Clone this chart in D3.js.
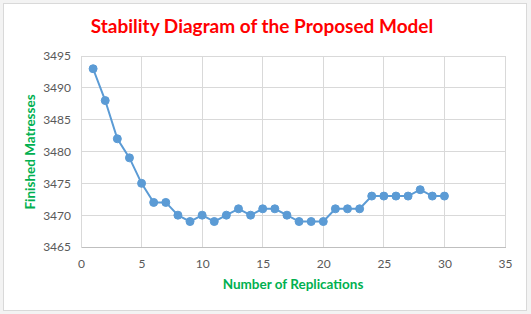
<!DOCTYPE html>
<html><head><meta charset="utf-8">
<script src="https://cdn.jsdelivr.net/npm/d3@7"></script>
<style>body{margin:0;background:#fff;}svg{display:block;}</style>
</head><body>
<svg id="c" width="531" height="314"></svg>
<script>
const replications = [1,2,3,4,5,6,7,8,9,10,11,12,13,14,15,16,17,18,19,20,21,22,23,24,25,26,27,28,29,30];
const finished = [3493,3488,3482,3479,3475,3472,3472,3470,3469,3470,3469,3470,3471,3470,3471,3471,3470,3469,3469,3469,3471,3471,3471,3473,3473,3473,3473,3474,3473,3473];
const xTicks = [0,5,10,15,20,25,30,35];
const yTicks = [3465,3470,3475,3480,3485,3490,3495];
const title = "Stability Diagram of the Proposed Model";
const xTitle = "Number of Replications";
const yTitle = "Finished Matresses";

const svg = d3.select("#c");
const font = "Lato, 'Open Sans', sans-serif";
svg.append("rect").attr("x",0).attr("y",0).attr("width",531).attr("height",314).attr("fill","#f3f3f3");
svg.append("rect").attr("x",3.5).attr("y",3.5).attr("width",523).attr("height",307).attr("fill","#fff").attr("stroke","#d9d9d9");

const m = {l:81, r:505, t:56, b:247};
const x = d3.scaleLinear().domain([0,35]).range([m.l,m.r]);
const y = d3.scaleLinear().domain([3465,3495]).range([m.b,m.t]);

const g = svg.append("g");
g.selectAll(".vg").data(xTicks).join("line")
  .attr("x1",d=>x(d)).attr("x2",d=>x(d)).attr("y1",m.t).attr("y2",m.b)
  .attr("stroke","#d9d9d9").attr("stroke-width",1).attr("shape-rendering","crispEdges");
g.selectAll(".hg").data(yTicks).join("line")
  .attr("x1",m.l).attr("x2",m.r).attr("y1",d=>y(d)).attr("y2",d=>y(d))
  .attr("stroke","#d9d9d9").attr("stroke-width",1).attr("shape-rendering","crispEdges");

const xAxis = d3.axisBottom(x).tickValues(xTicks).tickSize(0).tickPadding(12).tickFormat(d3.format("d"));
const yAxis = d3.axisLeft(y).tickValues(yTicks).tickSize(0).tickPadding(10).tickFormat(d3.format("d"));
const gx = svg.append("g").attr("transform",`translate(0,${m.b})`).call(xAxis);
const gy = svg.append("g").attr("transform",`translate(${m.l},0)`).call(yAxis);
[gx,gy].forEach(a=>{
  a.select(".domain").attr("stroke","#bfbfbf").attr("shape-rendering","crispEdges");
  a.selectAll("text").attr("fill","#595959").style("font-family",font).style("font-size","12px");
});
gy.select(".domain").attr("stroke","#d9d9d9");

svg.append("path").datum(replications.map((r,i)=>[r,finished[i]]))
  .attr("d",d3.line().x(d=>x(d[0])).y(d=>y(d[1])))
  .attr("fill","none").attr("stroke","#5b9bd5").attr("stroke-width",2);
svg.selectAll(".pt").data(replications).join("circle")
  .attr("cx",d=>x(d)).attr("cy",(d,i)=>y(finished[i])).attr("r",4)
  .attr("fill","#5b9bd5").attr("stroke","#5b9bd5");

svg.append("text").attr("x",262).attr("y",33).attr("text-anchor","middle")
  .attr("fill","#ff0000").style("font-family",font).style("font-weight","bold").style("font-size","19px").text(title);
svg.append("text").attr("x",293).attr("y",289).attr("text-anchor","middle")
  .attr("fill","#00b050").style("font-family",font).style("font-weight","bold").style("font-size","13.5px").text(xTitle);
svg.append("text").attr("transform","translate(35,152) rotate(-90)").attr("text-anchor","middle")
  .attr("fill","#00b050").style("font-family",font).style("font-weight","bold").style("font-size","13.5px").text(yTitle);
</script>
</body></html>
